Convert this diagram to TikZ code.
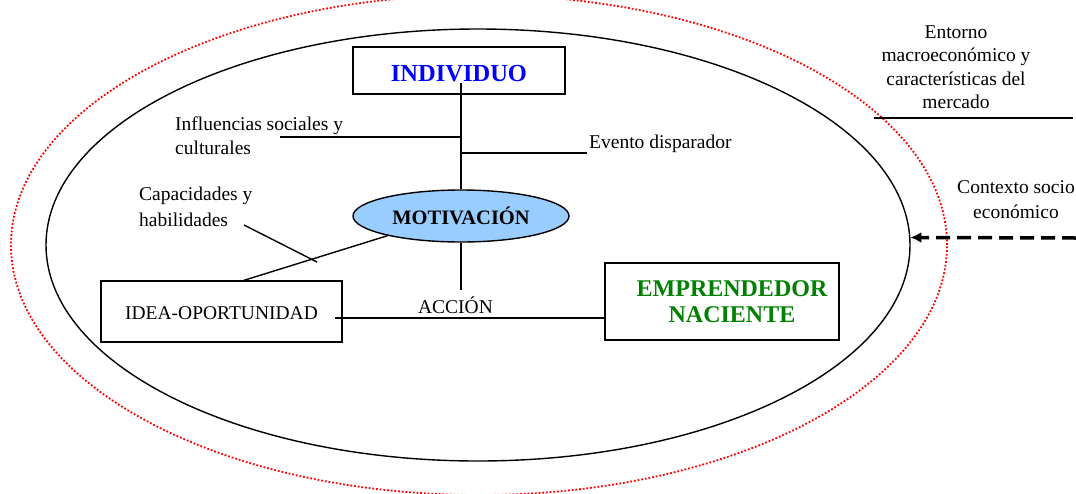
\documentclass[tikz,border=0pt]{standalone}
\usepackage{fontspec}
\setmainfont{Liberation Serif}
\usetikzlibrary{shapes.geometric,arrows.meta}
\definecolor{indblue}{RGB}{0,0,255}
\definecolor{empgreen}{RGB}{0,128,0}
\definecolor{motfill}{RGB}{153,204,255}
\begin{document}
\begin{tikzpicture}[x=1pt,y=-1pt,
  box/.style={draw, line width=1.4pt, rectangle, inner sep=0},
  lbl/.style={inner sep=0, font=\fontsize{19.5}{24}\selectfont},
  conn/.style={line width=1.4pt}]
\useasboundingbox (0,0) rectangle (1076,493);
% outer context (red dotted)
\draw[red, line width=1.8pt, dash pattern=on 1.8pt off 1.9pt] (479,245) ellipse [x radius=468pt, y radius=250pt];
% inner environment
\node[draw, ellipse, line width=1.4pt, minimum width=864pt, minimum height=432pt, inner sep=0] (outer) at (478,245) {};
% main nodes
\node[box, minimum width=212pt, minimum height=47pt, text=indblue, font=\bfseries\fontsize{24.5}{26}\selectfont] (ind) at (459,70.5) {\raisebox{-3pt}[\height][\depth]{INDIVIDUO}};
\node[draw, ellipse, fill=motfill, line width=1.4pt, minimum width=216pt, minimum height=52pt, inner sep=0, font=\bfseries\fontsize{20.5}{22}\selectfont] (mot) at (461,216) {MOTIVACIÓN};
\node[box, minimum width=241pt, minimum height=61pt, font=\fontsize{19.5}{22}\selectfont] (idea) at (221.5,311.5) {\raisebox{-2pt}[\height][\depth]{IDEA-OPORTUNIDAD}};
\node[box, minimum width=234pt, minimum height=77pt, text=empgreen, font=\bfseries\fontsize{24}{27}\selectfont] (emp) at (722,301.5) {\hspace*{20pt}\raisebox{-3pt}[\height][\depth]{\begin{tabular}{@{}c@{}}EMPRENDEDOR\\[-1pt]NACIENTE\end{tabular}}};
% labels
\node[lbl, anchor=north west, align=left] (infl) at (175,117) {Influencias sociales y\\culturales};
\node[lbl, anchor=north west, align=left, font=\fontsize{19.5}{25.5}\selectfont] (capa) at (139,187) {Capacidades y\\habilidades};
\node[lbl, anchor=base west] (evento) at (589,148) {Evento disparador};
\node[lbl, anchor=base] (accion) at (455.5,313) {ACCIÓN};
\node[lbl, anchor=north, align=center, font=\fontsize{19.5}{23.3}\selectfont] (entorno) at (956,25.5) {Entorno\\macroeconómico y\\características del\\mercado};
\node[lbl, anchor=north, align=center, font=\fontsize{19.5}{25}\selectfont] (ctx) at (1016,180) {Contexto socio\\económico};
% coordinates
\coordinate (indbot) at (461,83);
\coordinate (j1) at (461,137);
\coordinate (infend) at (280,137);
\coordinate (j2) at (461,153);
\coordinate (evend) at (587,153);
\coordinate (accend) at (461,290);
\coordinate (idear) at (335,318);
\coordinate (capa1) at (244,225);
\coordinate (capa2) at (317,262);
\coordinate (ul1) at (874,118);
\coordinate (ul2) at (1073,118);
\coordinate (ctxstart) at (1076,238);
% connectors
\draw[conn] (indbot) -- (mot.north);
\draw[conn] (j1) -- (infend);
\draw[conn] (j2) -- (evend);
\draw[conn] (mot.south) -- (accend);
\draw[conn] (idear) -- (idear -| emp.west);
\draw[conn] (capa1) -- (capa2);
\draw[conn] (mot.195) -- (idea.north -| capa1);
\draw[conn] (ul1) -- (ul2);
\draw[line width=3.5pt, dash pattern=on 14pt off 7pt, -{Latex[length=11pt,width=11pt]}] (ctxstart) -- (outer.1);
\end{tikzpicture}
\end{document}
